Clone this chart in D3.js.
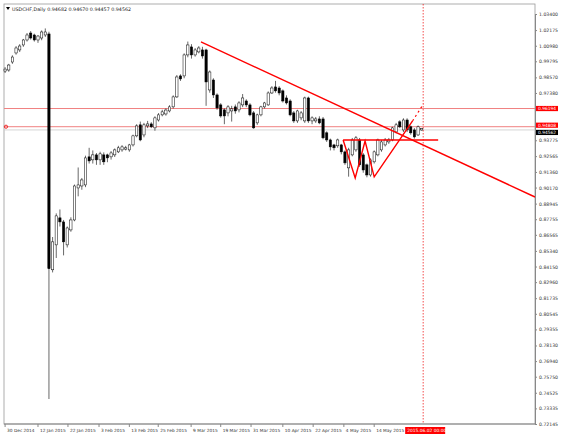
<!DOCTYPE html>
<html><head><meta charset="utf-8">
<script src="https://cdn.jsdelivr.net/npm/d3@7"></script>
<style>body{margin:0;background:#fff}text{font-family:"DejaVu Sans",sans-serif}</style>
</head><body><svg id="c" width="565" height="446"></svg>
<script>
const opens=[.9905,.9913,.9974,1.0043,1.0066,1.0104,1.0142,1.0195,1.0180,1.0142,1.0157,1.0180,1.0188,.8390,.8580,.8786,.8755,.8580,.8694,.8770,.9014,.9029,.9037,.9251,.9228,.9266,.9228,.9266,.9266,.9251,.9266,.9289,.9304,.9310,.9304,.9342,.9411,.9495,.9418,.9487,.9502,.9472,.9532,.9571,.9578,.9601,.9632,.9708,.9868,.9868,1.0028,1.0089,1.0028,1.0051,1.0066,1.0066,.9761,.9837,.9723,.9647,.9609,.9586,.9601,.9632,.9609,.9647,.9677,.9647,.9586,.9510,.9571,.9632,.9647,.9738,.9784,.9776,.9754,.9700,.9677,.9586,.9525,.9548,.9525,.9700,.9525,.9525,.9540,.9540,.9434,.9380,.9342,.9335,.9342,.9289,.9167,.9266,.9304,.9380,.9266,.9190,.9113,.9213,.9266,.9304,.9342,.9365,.9380,.9441,.9518,.9456,.9532,.9480,.9456,.9418,.9456];
const highs=[.9935,.9960,1.0025,1.0095,1.0110,1.0150,1.0195,1.0210,1.0190,1.0180,1.0215,1.0230,1.0205,.8640,.8820,.8850,.8770,.8720,.8790,.9040,.9170,.9090,.9260,.9320,.9300,.9280,.9290,.9285,.9275,.9295,.9315,.9335,.9340,.9335,.9350,.9420,.9500,.9520,.9510,.9525,.9515,.9560,.9585,.9610,.9620,.9645,.9720,.9875,.9880,1.0040,1.0130,1.0110,1.0080,1.0095,1.0090,1.0075,.9910,.9850,.9735,.9660,.9620,.9645,.9640,.9650,.9675,.9730,.9690,.9660,.9600,.9580,.9640,.9670,.9750,.9790,.9830,.9790,.9765,.9720,.9690,.9600,.9610,.9600,.9710,.9710,.9560,.9555,.9560,.9555,.9445,.9390,.9350,.9390,.9350,.9300,.9320,.9395,.9410,.9395,.9280,.9200,.9240,.9300,.9390,.9380,.9395,.9395,.9480,.9510,.9530,.9545,.9545,.9490,.9470,.9490,.9470];
const lows=[.9890,.9900,.9960,1.0030,1.0050,1.0090,1.0130,1.0145,1.0130,1.0120,1.0140,1.0165,.7405,.8370,.8480,.8720,.8500,.8560,.8680,.8760,.8950,.9000,.9020,.9200,.9200,.9190,.9190,.9190,.9210,.9230,.9250,.9280,.9290,.9300,.9290,.9330,.9400,.9370,.9400,.9470,.9470,.9450,.9520,.9560,.9565,.9590,.9620,.9700,.9830,.9850,1.0010,1.0000,1.0015,1.0040,1.0000,.9640,.9740,.9700,.9610,.9550,.9500,.9560,.9520,.9580,.9590,.9630,.9630,.9560,.9465,.9495,.9560,.9620,.9640,.9730,.9740,.9720,.9665,.9650,.9560,.9510,.9510,.9530,.9510,.9510,.9500,.9510,.9500,.9385,.9365,.9300,.9300,.9320,.9270,.9190,.9100,.9255,.9290,.9175,.9130,.9095,.9100,.9200,.9255,.9290,.9330,.9350,.9370,.9430,.9470,.9440,.9440,.9420,.9390,.9410,.9450];
const closes=[.9920,.9951,1.0012,1.0081,1.0096,1.0142,1.0180,1.0157,1.0142,1.0172,1.0203,1.0203,.8398,.8603,.8801,.8755,.8603,.8709,.8770,.9029,.9037,.9075,.9243,.9220,.9266,.9228,.9274,.9213,.9243,.9281,.9304,.9320,.9327,.9320,.9342,.9411,.9487,.9380,.9495,.9502,.9480,.9548,.9571,.9594,.9608,.9632,.9708,.9860,.9845,1.0028,1.0104,1.0028,1.0066,1.0081,1.0020,.9822,.9898,.9723,.9624,.9563,.9563,.9632,.9617,.9601,.9662,.9700,.9647,.9571,.9472,.9571,.9632,.9662,.9738,.9776,.9754,.9738,.9677,.9662,.9571,.9525,.9601,.9586,.9700,.9525,.9548,.9540,.9510,.9396,.9380,.9327,.9320,.9380,.9289,.9205,.9304,.9380,.9396,.9190,.9151,.9113,.9228,.9289,.9380,.9365,.9380,.9380,.9472,.9495,.9480,.9532,.9456,.9434,.9403,.9480,.9468];
const priceTicks=[1.03400,1.02175,1.00980,0.99795,0.98570,0.97380,0.93775,0.92565,0.91360,0.90170,0.88945,0.87755,0.86565,0.85340,0.84150,0.82960,0.81735,0.80545,0.79355,0.78130,0.76940,0.75750,0.74525,0.73335,0.72145];
const dateLabels=["30 Dec 2014","12 Jan 2015","22 Jan 2015","3 Feb 2015","13 Feb 2015","25 Feb 2015","9 Mar 2015","19 Mar 2015","31 Mar 2015","10 Apr 2015","22 Apr 2015","4 May 2015","14 May 2015"];
const dateIdx=[0,9,17.2,25.7,34,41.9,50.9,59,67.3,76,84.3,92.7,101];
const levels=[0.96194,0.94808];
const bid=0.94562;
const trendIdx=[53.6,145], trendPx=[1.0127,0.8945];
const wIdx=[92.5,95.8,98.5,101,111.5], wPx=[0.9380,0.9090,0.9372,0.9098,0.9525];
const dashIdx=[111.5,114.5], dashPx=[0.9525,0.9655];
const neckIdx=[92.5,118.5], neckPx=0.9380;
const curIdx=114.4;

const svg=d3.select("#c");
const L=4,R=535,T=4,B=424;
const x=d3.scaleLinear().domain([-0.3,145]).range([L,R]);
const y=d3.scaleLinear().domain([0.72145,1.03400]).range([424,14]);
svg.append("rect").attr("x",L).attr("y",T).attr("width",R-L).attr("height",B-T).attr("fill","#fff").attr("stroke","#999").attr("stroke-width",0.8);
const g=svg.append("g");
levels.forEach(v=>g.append("line").attr("x1",L).attr("x2",R).attr("y1",y(v)).attr("y2",y(v)).attr("stroke","#f08080").attr("stroke-width",1));
g.append("line").attr("x1",L).attr("x2",R).attr("y1",y(bid)).attr("y2",y(bid)).attr("stroke","#ccc").attr("stroke-width",0.8);
g.append("circle").attr("cx",L+2).attr("cy",y(levels[1])).attr("r",1.6).attr("fill","none").attr("stroke","#e00").attr("stroke-width",0.8);
g.append("line").attr("x1",x(curIdx)).attr("x2",x(curIdx)).attr("y1",T).attr("y2",B).attr("stroke","#e00").attr("stroke-width",0.7).attr("stroke-dasharray","1.5,1.5");
const idx=d3.range(opens.length);
const cw=2.3;
g.selectAll(".w").data(idx).join("line").attr("x1",i=>x(i)).attr("x2",i=>x(i)).attr("y1",i=>y(highs[i])).attr("y2",i=>y(lows[i])).attr("stroke","#000").attr("stroke-width",0.6);
g.selectAll(".b").data(idx).join("rect").attr("x",i=>x(i)-cw/2).attr("width",cw)
 .attr("y",i=>y(Math.max(opens[i],closes[i]))).attr("height",i=>Math.max(0.8,Math.abs(y(opens[i])-y(closes[i]))))
 .attr("fill",i=>closes[i]>=opens[i]?"#fff":"#000").attr("stroke","#000").attr("stroke-width",0.5);
const red="#f00";
g.append("line").attr("x1",x(trendIdx[0])).attr("y1",y(trendPx[0])).attr("x2",x(trendIdx[1])).attr("y2",y(trendPx[1])).attr("stroke",red).attr("stroke-width",1.4);
g.append("line").attr("x1",x(neckIdx[0])).attr("y1",y(neckPx)).attr("x2",x(neckIdx[1])).attr("y2",y(neckPx)).attr("stroke",red).attr("stroke-width",1.4);
g.append("path").attr("d",d3.line()(wIdx.map((v,i)=>[x(v),y(wPx[i])]))).attr("fill","none").attr("stroke",red).attr("stroke-width",1.4);
g.append("line").attr("x1",x(dashIdx[0])).attr("y1",y(dashPx[0])).attr("x2",x(dashIdx[1])).attr("y2",y(dashPx[1])).attr("stroke",red).attr("stroke-width",1.2).attr("stroke-dasharray","2,3");
const ra=svg.append("g").attr("transform",`translate(${R},0)`).call(d3.axisRight(y).tickValues(priceTicks).tickSize(2).tickFormat(d3.format(".5f")));
ra.select(".domain").attr("stroke","#888");
ra.selectAll("text").attr("font-size",4.6).attr("fill","#333").attr("x",4);
ra.selectAll("line").attr("stroke","#888");
function tag(v,col,dy){const yy=y(v)+dy;svg.append("rect").attr("x",R+1).attr("y",yy-2.6).attr("width",22).attr("height",5.2).attr("fill",col);
 svg.append("text").attr("x",R+3).attr("y",yy+1.6).attr("font-size",4.4).attr("fill","#fff").text(v.toFixed(5));}
tag(levels[0],"#f00",0);tag(levels[1],"#f00",-1.5);tag(bid,"#000",2.5);
svg.append("line").attr("x1",L).attr("x2",R).attr("y1",B).attr("y2",B).attr("stroke","#888");
dateIdx.forEach((d,i)=>{const xx=x(d);svg.append("line").attr("x1",xx).attr("x2",xx).attr("y1",B).attr("y2",B+3).attr("stroke","#888");
 svg.append("text").attr("x",xx+2).attr("y",B+8).attr("font-size",4.3).attr("fill","#333").text(dateLabels[i]);});
svg.append("rect").attr("x",x(curIdx)-18).attr("y",B+3).attr("width",40).attr("height",7).attr("fill","#f00");
svg.append("text").attr("x",x(curIdx)-16).attr("y",B+8.2).attr("font-size",4.4).attr("fill","#fff").text("2015.06.02 00:00");
svg.append("path").attr("d","M6,7 L10,7 L8,10 Z").attr("fill","#000");
svg.append("text").attr("x",12).attr("y",10.5).attr("font-size",4.8).attr("fill","#222").text("USDCHF,Daily  0.94682 0.94670 0.94457 0.94562");
</script></body></html>
